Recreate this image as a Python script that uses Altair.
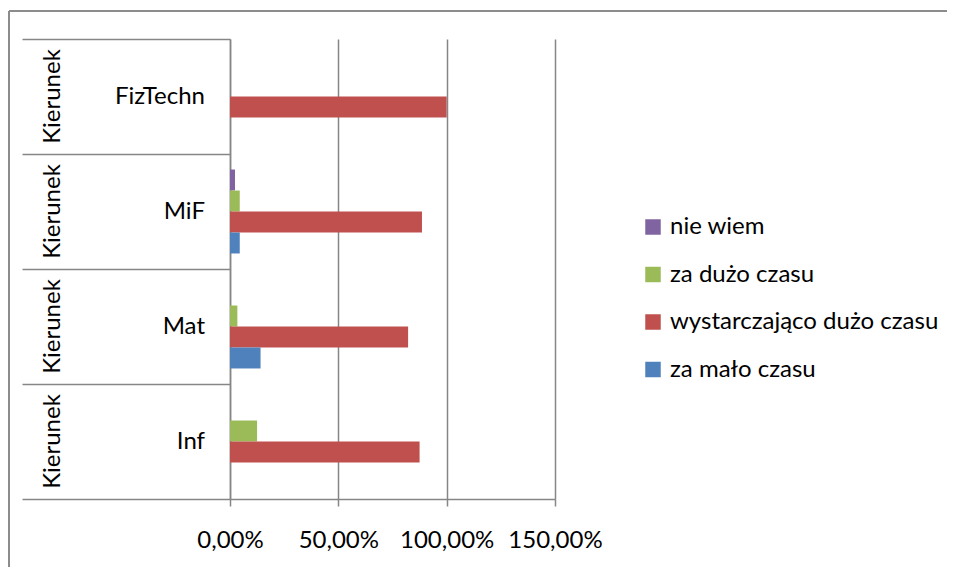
import altair as alt
import pandas as pd

categories = ["FizTechn", "MiF", "Mat", "Inf"]
kierunek_labels = ["Kierunek", "Kierunek", "Kierunek", "Kierunek"]
series = ["nie wiem", "za dużo czasu", "wystarczająco dużo czasu", "za mało czasu"]
colors = ["#8064A2", "#9BBB59", "#C0504D", "#4F81BD"]

nie_wiem = [0.0, 0.023, 0.0, 0.0]
za_duzo = [0.0, 0.045, 0.034, 0.125]
wystarczajaco = [1.0, 0.886, 0.822, 0.875]
za_malo = [0.0, 0.045, 0.141, 0.0]

x_ticks = [0, 0.5, 1.0, 1.5]

rows = []
for i, c in enumerate(categories):
    for s, vals in zip(series, [nie_wiem, za_duzo, wystarczajaco, za_malo]):
        rows.append({"cat": c, "series": s, "value": vals[i]})
df = pd.DataFrame(rows)
cat_df = pd.DataFrame({"cat": categories, "kier": kierunek_labels})

GRAY = "#868686"
FONT = "Lato"
FS = 24

y_enc = alt.Y(
    "cat:N",
    sort=categories,
    scale=alt.Scale(paddingInner=0, paddingOuter=0),
    axis=alt.Axis(
        labels=False, title=None, ticks=True, tickBand="extent", tickSize=208,
        tickColor=GRAY, tickWidth=1.5, domainColor=GRAY, domainWidth=1.5, grid=False,
    ),
)

bars = alt.Chart(df).mark_bar().encode(
    x=alt.X(
        "value:Q",
        scale=alt.Scale(domain=[0, 1.5], nice=False),
        axis=alt.Axis(
            values=x_ticks,
            labelExpr="replace(format(datum.value, '.2%'), '.', ',')",
            title=None, grid=True, gridColor=GRAY, gridWidth=1.5,
            labelOverlap=False, labelFlush=False, labelBound=False,
            domainColor=GRAY, domainWidth=1.5, tickColor=GRAY, tickSize=7, tickWidth=1.5,
            labelFont=FONT, labelFontSize=FS, labelColor="black", labelPadding=22,
        ),
    ),
    y=y_enc,
    yOffset=alt.YOffset(
        "series:N", sort=series,
        scale=alt.Scale(domain=series, paddingInner=0, paddingOuter=0.74),
    ),
    color=alt.Color(
        "series:N",
        scale=alt.Scale(domain=series, range=colors),
        legend=alt.Legend(
            title=None, orient="none", legendX=411, legendY=176,
            symbolType="square", symbolSize=240, symbolStrokeWidth=0,
            labelFont=FONT, labelFontSize=FS, labelColor="black", labelLimit=0,
            labelOffset=5, rowPadding=23.5, padding=0,
        ),
    ),
)

cat_text = alt.Chart(cat_df).mark_text(
    align="right", baseline="middle", font=FONT, fontSize=FS, color="black"
).encode(y=alt.Y("cat:N", sort=categories), x=alt.value(-25), text="cat:N")

kier_text = alt.Chart(cat_df).mark_text(
    align="center", baseline="middle", font=FONT, fontSize=FS, color="black", angle=270
).encode(y=alt.Y("cat:N", sort=categories), x=alt.value(-177), text="kier:N")

border = alt.Data(values=[{"a": 1}])
top_border = alt.Chart(border).mark_rule(color="#8c8c8c", strokeWidth=2).encode(
    x=alt.value(-221), x2=alt.value(725), y=alt.value(-28)
)
left_border = alt.Chart(border).mark_rule(color="#8c8c8c", strokeWidth=2).encode(
    x=alt.value(-221), y=alt.value(-28), y2=alt.value(540)
)

chart = alt.layer(bars, cat_text, kier_text, top_border, left_border).properties(
    width=325,
    height=460,
    padding={"left": 222, "top": 31, "right": 392, "bottom": 68},
    autosize=alt.AutoSizeParams(type="none"),
    background="white",
).configure_view(stroke=None)

chart.save("out.html", embed_options={"renderer": "svg", "actions": False})
